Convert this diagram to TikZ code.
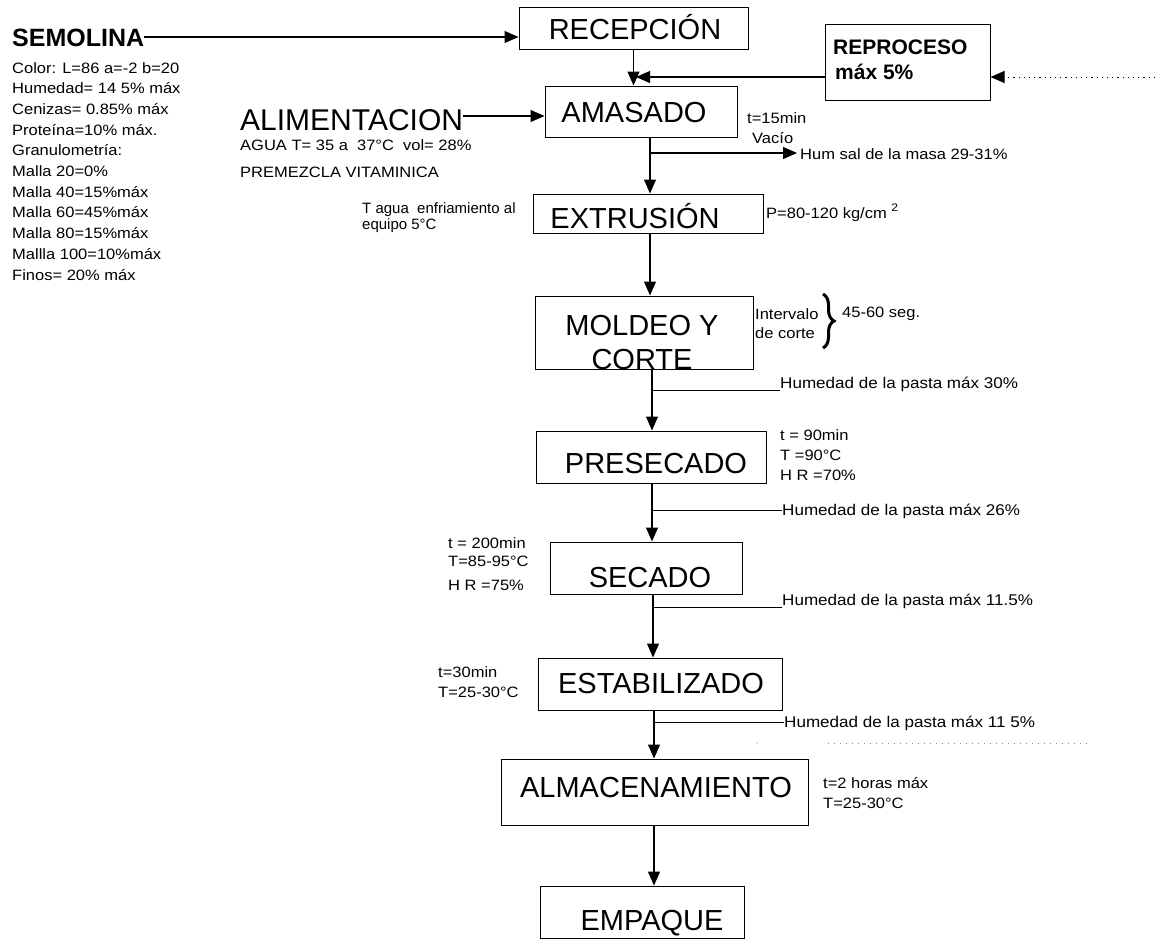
\documentclass[tikz,border=0pt]{standalone}
\usepackage{fontspec}
\setmainfont{Liberation Sans}
\newfontfamily\widesans[FakeStretch=1.1]{Liberation Sans}
\usetikzlibrary{arrows.meta,decorations.pathreplacing}
\newcommand\setfs[1]{\fontsize{#1}{#1}\selectfont}
\begin{document}
\begin{tikzpicture}[x=1pt,y=-1pt,
  box/.style={draw,line width=1pt,rectangle,inner sep=0pt},
  boxtxt/.style={font=\setfs{29},inner sep=0pt,anchor=base},
  small/.style={font=\widesans\setfs{15},inner sep=0pt,anchor=base west},
  plain/.style={font=\setfs{15},inner sep=0pt,anchor=base west},
  humtxt/.style={font=\widesans\setfs{15.5},inner sep=0pt,anchor=base west},
  flow/.style={line width=1.1pt,-{Triangle[length=14pt,width=12pt]}},
  tie/.style={line width=1pt}]
\useasboundingbox (0,0) rectangle (1155,942);

% process boxes
\node[box,minimum width=229pt,minimum height=42pt] (rec) at (633.5,29) {};
\node[box,minimum width=165pt,minimum height=75pt] (rep) at (907.5,62.5) {};
\node[box,minimum width=192pt,minimum height=51pt] (ama) at (641,111.5) {};
\node[box,minimum width=230pt,minimum height=39pt] (ext) at (648,213.5) {};
\node[box,minimum width=218pt,minimum height=73pt] (mol) at (644,332.5) {};
\node[box,minimum width=230pt,minimum height=52pt] (pre) at (651,457) {};
\node[box,minimum width=192pt,minimum height=52pt] (sec) at (646,568) {};
\node[box,minimum width=244pt,minimum height=52pt] (est) at (660,684) {};
\node[box,minimum width=307pt,minimum height=66pt] (alm) at (654.5,792) {};
\node[box,minimum width=204pt,minimum height=52pt] (emp) at (642,912) {};

% box captions
\node[boxtxt] (recT) at (635,40) {RECEPCIÓN};
\node[boxtxt] (amaT) at (634,122) {AMASADO};
\node[boxtxt] (extT) at (635,228) {EXTRUSIÓN};
\node[boxtxt] (molT) at (642,335) {MOLDEO Y};
\node[boxtxt] (molT2) at (642,369) {CORTE};
\node[boxtxt] (preT) at (656,473) {PRESECADO};
\node[boxtxt] (secT) at (650,587) {SECADO};
\node[boxtxt] (estT) at (661,693) {ESTABILIZADO};
\node[boxtxt] (almT) at (656,797) {ALMACENAMIENTO};
\node[boxtxt] (empT) at (652,930) {EMPAQUE};
\node[font=\setfs{21}\bfseries,inner sep=0pt,anchor=base west] (repT) at (833,55) {REPROCESO};
\node[font=\setfs{21}\bfseries,inner sep=0pt,anchor=base west] (repT2) at (835,79) {máx 5\%};

% raw material and feed
\node[font=\setfs{25}\bfseries,inner sep=0pt,anchor=base west] (sem) at (12,46) {SEMOLINA};
\foreach \t [count=\i] in {{Color: L=86 a=-2 b=20},{Humedad= 14 5\% máx},{Cenizas= 0.85\% máx},
  {Proteína=10\% máx.},{Granulometría:},{Malla 20=0\%},{Malla 40=15\%máx},{Malla 60=45\%máx},
  {Malla 80=15\%máx},{Mallla 100=10\%máx},{Finos= 20\% máx}}
  \node[small] (sl\i) at (12,{73+20.7*(\i-1)}) {\t};
\node[font=\setfs{30},inner sep=0pt,anchor=base west] (ali) at (240,130) {ALIMENTACION};
\node[small] (agua) at (240,150) {AGUA T= 35 a\ \ 37°C\ \ vol= 28\%};
\node[small] (prem) at (240,177) {PREMEZCLA VITAMINICA};
\node[plain] (tag) at (362,213) {T agua\ \ enfriamiento al};
\node[plain] (tag2) at (362,229) {equipo 5°C};

% process conditions
\node[small] (t15) at (747,123) {t=15min};
\node[small] (vac) at (752,143) {Vacío};
\node[small] (hsal) at (800,159) {Hum sal de la masa 29-31\%};
\node[small] (pres) at (766,218) {P=80-120 kg/cm\ \raisebox{7pt}{\setfs{11}2}};
\node[small] (int1) at (755,319) {Intervalo};
\node[small] (int2) at (755,338) {de corte};
\node[small] (seg) at (842,317) {45-60 seg.};
\node[humtxt] (h30) at (780,388) {Humedad de la pasta máx 30\%};
\node[small] (p1) at (780,440) {t = 90min};
\node[small] (p2) at (780,460) {T =90°C};
\node[small] (p3) at (780,480) {H R =70\%};
\node[humtxt] (h26) at (782,515) {Humedad de la pasta máx 26\%};
\node[small] (s1) at (448,548) {t = 200min};
\node[small] (s2) at (448,566) {T=85-95°C};
\node[small] (s3) at (448,590) {H R =75\%};
\node[humtxt] (h115) at (782,605) {Humedad de la pasta máx 11.5\%};
\node[small] (e1) at (438,677) {t=30min};
\node[small] (e2) at (438,697) {T=25-30°C};
\node[humtxt] (h115b) at (784,727) {Humedad de la pasta máx 11 5\%};
\node[small] (a1) at (823,788) {t=2 horas máx};
\node[small] (a2) at (823,808) {T=25-30°C};

% auxiliary points
\coordinate (merge) at (636,77);
\coordinate (rin) at (1155,77);
\coordinate (b1) at (650,153);
\coordinate (b1e) at (797,153);
\coordinate (b2) at (652,390);
\coordinate (b3) at (652,510);
\coordinate (b4) at (653,607);
\coordinate (b5) at (654,722);
\coordinate (br1) at (823,294);
\coordinate (br2) at (823,348);
\coordinate (dl1) at (828,743);
\coordinate (dl2) at (1090,743);
\coordinate (dot) at (757,743);

% connectors
\draw[flow] (sem.east |- 0,37) -- (rec.west |- 0,37);
\draw[flow] (rec.south) -- (rec.south |- ama.north);
\draw[flow] (rep.west |- merge) -- (merge);
\draw[flow,dash pattern=on 1.2pt off 4pt,line width=0.9pt] (rin) -- (rep.east |- rin);
\draw[flow] (ali.east |- 0,116) -- (ama.west |- 0,116);
\draw[flow] (ama.south -| b1) -- (ext.north -| b1);
\draw[flow] (b1) -- (b1e);
\draw[flow] (ext.south -| b1) -- (mol.north -| b1);
\draw[flow] (mol.south -| b2) -- (pre.north -| b2);
\draw[tie] (b2) -- (h30.west |- b2);
\draw[flow] (pre.south -| b3) -- (sec.north -| b3);
\draw[tie] (b3) -- (h26.west |- b3);
\draw[flow] (sec.south -| b4) -- (est.north -| b4);
\draw[tie] (b4) -- (h115.west |- b4);
\draw[flow] (est.south -| b5) -- (alm.north -| b5);
\draw[tie] (b5) -- (h115b.west |- b5);
\draw[flow] (alm.south -| b5) -- (emp.north -| b5);
\draw[decorate,decoration={brace,amplitude=11pt},line width=3pt] (br1) -- (br2);
\draw[gray,line width=0.8pt,dash pattern=on 1pt off 5pt] (dl1) -- (dl2);
\fill[gray] (dot) circle (0.6pt);
\end{tikzpicture}
\end{document}
